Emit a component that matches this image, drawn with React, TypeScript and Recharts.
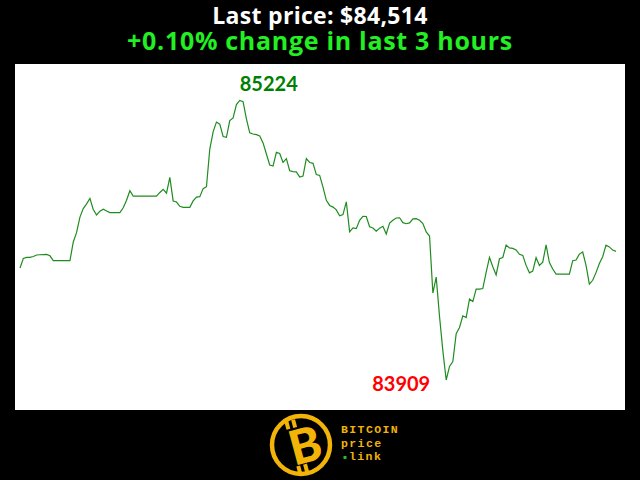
import { LineChart, Line, XAxis, YAxis } from "recharts";

// one price per minute over the last 3 hours (USD)
const prices = [
  84436, 84481, 84486, 84486, 84490, 84497, 84498, 84499, 84500, 84493,
  84470, 84470, 84470, 84470, 84470, 84470, 84558, 84603, 84675, 84715,
  84737, 84763, 84711, 84685, 84703, 84712, 84704, 84696, 84696, 84696,
  84696, 84719, 84754, 84799, 84774, 84774, 84774, 84774, 84774, 84774,
  84774, 84774, 84791, 84806, 84788, 84862, 84751, 84746, 84726, 84721,
  84721, 84721, 84751, 84769, 84771, 84809, 84818, 84995, 85076, 85122,
  85112, 85054, 85050, 85129, 85141, 85204, 85224, 85218, 85137, 85071,
  85066, 85063, 85057, 85024, 84972, 84920, 84915, 84980, 84974, 84932,
  84950, 84893, 84889, 84888, 84863, 84868, 84950, 84932, 84928, 84875,
  84871, 84816, 84754, 84730, 84722, 84709, 84681, 84687, 84747, 84606,
  84624, 84621, 84660, 84679, 84678, 84630, 84624, 84609, 84623, 84632,
  84596, 84647, 84660, 84671, 84672, 84649, 84644, 84648, 84667, 84668,
  84660, 84645, 84605, 84586, 84318, 84393, 84208, 84046, 83909, 83973,
  83996, 84127, 84156, 84211, 84203, 84290, 84278, 84336, 84336, 84339,
  84415, 84486, 84442, 84403, 84479, 84485, 84544, 84530, 84528, 84521,
  84500, 84495, 84448, 84413, 84421, 84484, 84448, 84463, 84544, 84461,
  84431, 84407, 84407, 84407, 84407, 84407, 84470, 84473, 84501, 84511,
  84448, 84360, 84378, 84414, 84457, 84489, 84543, 84535, 84520, 84514,
];

const lastPriceText = "Last price: $84,514";
const changeText = "+0.10% change in last 3 hours";

const data = prices.map((price, i) => ({ i, price }));
const maxIdx = prices.indexOf(Math.max(...prices));
const minIdx = prices.indexOf(Math.min(...prices));

const GOLD = "#f2b407";

const renderLabel = (props: any) => {
  const { x, y, index, value } = props;
  if (index === maxIdx) {
    return (
      <text key="max" x={x} y={y - 9} fill="#008000" fontSize={20} fontWeight="bold" fontFamily="Lato">
        {value}
      </text>
    );
  }
  if (index === minIdx) {
    return (
      <text key="min" x={x - 16} y={y + 11} textAnchor="end" fill="#ff0000" fontSize={20} fontWeight="bold" fontFamily="Lato">
        {value}
      </text>
    );
  }
  return <g key={index} />;
};

const Logo = () => (
  <svg width={640} height={70} style={{ position: "absolute", left: 0, top: 410 }}>
    <circle cx={301} cy={35} r={29} fill="none" stroke={GOLD} strokeWidth={4.5} />
    <g transform="rotate(-15 303 35)" fill={GOLD}>
      <rect x={291} y={8} width={4} height={8} />
      <rect x={298} y={8} width={4} height={8} />
      <rect x={291} y={54} width={4} height={8} />
      <rect x={298} y={54} width={4} height={8} />
      <text x={305} y={53} textAnchor="middle" fontSize={48} fontWeight={900} fontFamily="Lato">
        B
      </text>
    </g>
    <g fontFamily="Liberation Mono" fontWeight="bold" fontSize={11.5} fill={GOLD} letterSpacing={1.4}>
      <text x={341} y={23.3}>BITCOIN</text>
      <text x={341} y={36.5}>price</text>
      <rect x={343.5} y={46} width={3} height={3} fill="#22c022" />
      <text x={349} y={50}>link</text>
    </g>
  </svg>
);

export default function App() {
  return (
    <div style={{ position: "absolute", left: 0, top: 0, width: 640, height: 480, background: "#000", overflow: "hidden" }}>
      <div style={{ position: "absolute", top: 3.6, width: 640, textAlign: "center", color: "#fff", fontFamily: "Open Sans", fontWeight: "bold", fontSize: 23, lineHeight: "23px", letterSpacing: 0.3 }}>
        {lastPriceText}
      </div>
      <div style={{ position: "absolute", top: 28, width: 640, textAlign: "center", color: "#22f022", fontFamily: "Open Sans", fontWeight: "bold", fontSize: 25, lineHeight: "25px", letterSpacing: 0.7 }}>
        {changeText}
      </div>
      <div style={{ position: "absolute", left: 15, top: 64, background: "#fff" }}>
        <LineChart width={610} height={346} data={data} margin={{ top: 0, right: 0, bottom: 0, left: 0 }}>
          <XAxis dataKey="i" hide padding={{ left: 5, right: 9 }} />
          <YAxis hide type="number" domain={[83768, 85395]} />
          <Line
            type="linear"
            dataKey="price"
            stroke="#1f8c1f"
            strokeWidth={1.2}
            dot={false}
            label={renderLabel}
            isAnimationActive={false}
          />
        </LineChart>
      </div>
      <Logo />
    </div>
  );
}
